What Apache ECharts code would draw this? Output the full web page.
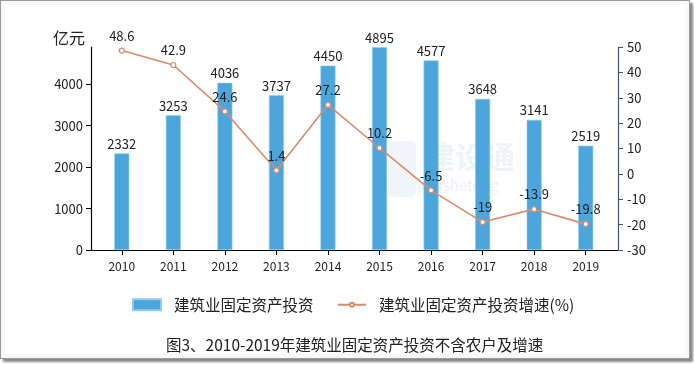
<!DOCTYPE html>
<html>
<head>
<meta charset="utf-8">
<script src="https://cdn.jsdelivr.net/npm/echarts@6/dist/echarts.min.js"></script>
<style>
html,body{margin:0;padding:0;background:#fff;}
#frame{position:absolute;left:0;top:0;width:688px;height:357px;border:1px solid #9a9a9a;box-shadow:inset 0 0 0 4px #f8f8f8, 3px 3px 2px #8a8a8a;background:#fff;}
#main{position:absolute;left:0;top:0;width:694px;height:365px;}
</style>
</head>
<body>
<div id="frame"></div>
<div id="main"></div>
<script>
const years = ['2010','2011','2012','2013','2014','2015','2016','2017','2018','2019'];
const investment = [2332, 3253, 4036, 3737, 4450, 4895, 4577, 3648, 3141, 2519];
const growth = [48.6, 42.9, 24.6, 1.4, 27.2, 10.2, -6.5, -19, -13.9, -19.8];
const leftTicks = [0, 1000, 2000, 3000, 4000];
const barName = '建筑业固定资产投资';
const lineName = '建筑业固定资产投资增速(%)';
const unitName = '亿元';
const titleText = '图3、2010-2019年建筑业固定资产投资不含农户及增速';

const FONT = 'Noto Sans CJK SC';
const chart = echarts.init(document.getElementById('main'), null, {renderer: 'canvas'});
const legendText = {fontSize: 15.5, color: '#222', fontFamily: FONT, padding: [0, 0, 0, 8]};
chart.setOption({
  animation: false,
  backgroundColor: 'transparent',
  textStyle: {fontFamily: FONT, color: '#222'},
  grid: [
    {left: 96, right: 82.5, top: 47, bottom: 115},
    {left: 91, right: 76, top: 47, bottom: 115}
  ],
  legend: [
    {
      left: 127, top: 292,
      itemWidth: 28, itemHeight: 11,
      textStyle: legendText,
      data: [{name: barName, icon: 'rect'}]
    },
    {
      left: 332, top: 292,
      itemWidth: 28, itemHeight: 5,
      textStyle: legendText,
      data: [{name: lineName}]
    }
  ],
  graphic: [
    {type: 'text', left: 166, top: 337, style: {text: titleText, fontSize: 15.5, fill: '#222', fontFamily: FONT}},
    {type: 'group', z: 100, silent: true, children: [
      {type: 'rect', shape: {x: 388, y: 141, width: 28, height: 56, r: 6}, style: {fill: 'rgba(200,215,230,0.25)'}},
      {type: 'text', style: {x: 425, y: 157, text: '建设通', fontSize: 30, fontWeight: 'bold', fill: 'rgba(200,215,230,0.3)', verticalAlign: 'middle', fontFamily: FONT}},
      {type: 'text', style: {x: 417, y: 185, text: 'jianshetong', fontSize: 15, fill: 'rgba(200,215,230,0.35)', verticalAlign: 'middle', fontFamily: FONT}}
    ]}
  ],
  xAxis: [
    {
      type: 'category', gridIndex: 0, data: years, boundaryGap: true,
      axisLine: {show: false},
      axisTick: {show: true, alignWithLabel: true, length: 5, lineStyle: {color: '#000', width: 1}},
      axisLabel: {fontSize: 12, color: '#222', margin: 10, fontFamily: FONT}
    },
    {
      type: 'value', gridIndex: 1, min: 0, max: 1,
      axisLine: {show: true, onZero: false, lineStyle: {color: '#000', width: 1.2}},
      axisTick: {show: false}, axisLabel: {show: false}, splitLine: {show: false}
    }
  ],
  yAxis: [
    {
      type: 'value', gridIndex: 0, min: 0, max: 4900, offset: 5,
      name: unitName, nameLocation: 'end', nameGap: 9,
      nameTextStyle: {fontSize: 16, color: '#222', align: 'right', verticalAlign: 'middle', padding: [0, 6, 0, 0], fontFamily: FONT},
      axisLine: {show: true, lineStyle: {color: '#000', width: 1.2}},
      axisTick: {show: true, length: 5, customValues: leftTicks, lineStyle: {color: '#000'}},
      axisLabel: {fontSize: 13, color: '#222', margin: 8, customValues: leftTicks, fontFamily: FONT, formatter: v => String(v)},
      splitLine: {show: false}
    },
    {
      type: 'value', gridIndex: 0, position: 'right', min: -30, max: 50, interval: 10, offset: 6.5,
      axisLine: {show: true, lineStyle: {color: '#44546A', width: 1.2}},
      axisTick: {show: true, length: 5, lineStyle: {color: '#44546A'}},
      axisLabel: {fontSize: 13, color: '#222', margin: 9, fontFamily: FONT},
      splitLine: {show: false}
    },
    {type: 'value', gridIndex: 1, show: false, min: 0, max: 1}
  ],
  series: [
    {
      name: barName, type: 'bar', xAxisIndex: 0, yAxisIndex: 0, data: investment,
      barWidth: 15,
      itemStyle: {color: '#4CA6DB', borderColor: '#8ecbef', borderWidth: 0.6},
      label: {show: true, position: 'top', distance: 3, fontSize: 13, color: '#222', fontFamily: FONT}
    },
    {
      name: lineName, type: 'line', xAxisIndex: 0, yAxisIndex: 1, data: growth,
      symbol: 'circle', symbolSize: 5, showAllSymbol: true,
      lineStyle: {color: '#DB8A6B', width: 1.6},
      itemStyle: {color: '#ffffff', borderColor: '#DB8A6B', borderWidth: 1.2},
      label: {show: true, position: 'top', distance: 5, fontSize: 13, color: '#222', fontFamily: FONT},
      z: 5
    }
  ]
});
</script>
</body>
</html>
